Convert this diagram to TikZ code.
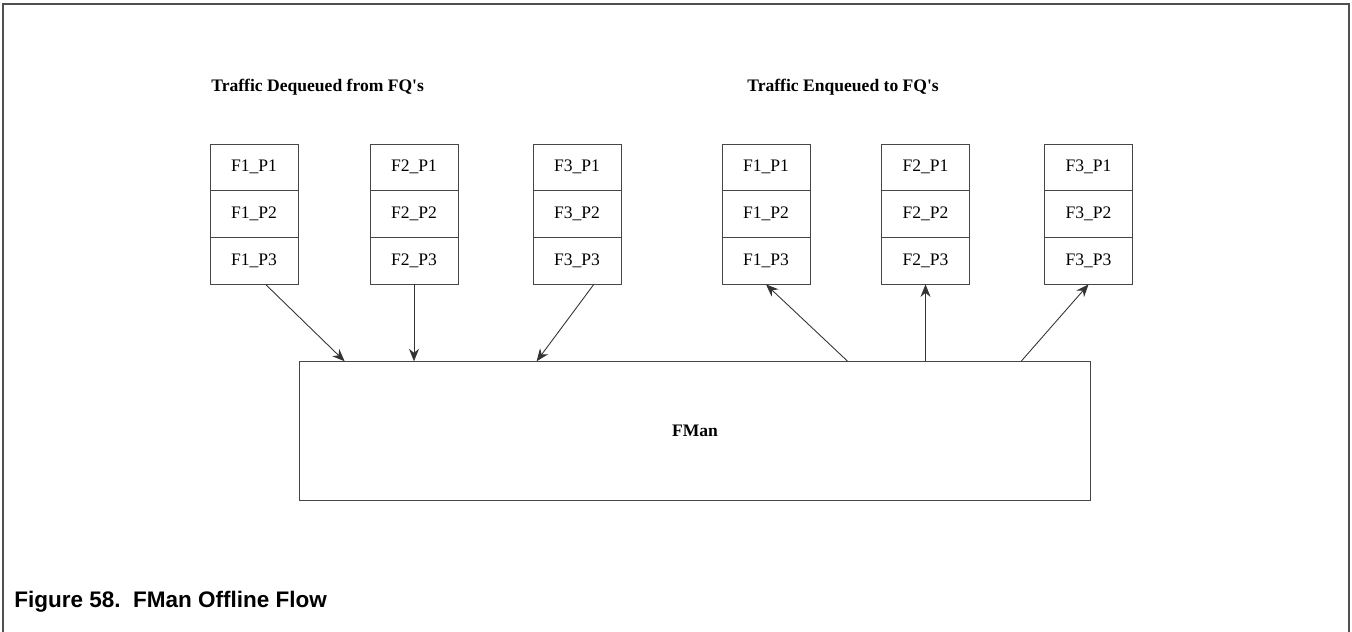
\documentclass[tikz,border=0pt]{standalone}
\usepackage{fontspec}
\setmainfont{Liberation Serif}
\newfontfamily\captionfont{Liberation Sans}
\usetikzlibrary{arrows.meta,calc}
\definecolor{framegray}{RGB}{80,80,80}
\definecolor{linegray}{RGB}{70,70,70}
\tikzset{
  fqcell/.style={draw=linegray, line width=0.5pt, minimum width=1.76cm,
    minimum height=0.933cm, inner sep=0pt, font=\fontsize{10}{12}\selectfont},
  flow/.style={draw=black!80, line width=0.5pt, -{Stealth[length=2.5mm,width=2mm]}},
  heading/.style={font=\fontsize{10}{12}\selectfont\bfseries, anchor=west, inner sep=0pt},
}

\begin{document}
\begin{tikzpicture}[x=0.02cm, y=-0.02cm]
  \useasboundingbox (0,0) rectangle (1352,632);
  % page frame, open at the bottom
  \draw[framegray, line width=1.1pt] (3,632) -- (3,4) -- (1349,4) -- (1349,632);

  \node[heading] (deqtitle) at (211,87) {Traffic Dequeued from FQ\textquotesingle s};
  \node[heading] (enqtitle) at (747,87) {Traffic Enqueued to FQ\textquotesingle s};

  % frame queues, three packets each
  \foreach \grp/\fx/\f in {deq/254/1, deq/414/2, deq/577/3,
                           enq/766/1, enq/925.5/2, enq/1088.5/3}
  {
    \foreach \p in {1,2,3}
    {
      \pgfmathsetmacro{\py}{167.3+(\p-1)*46.67}   % row centre
      \node[fqcell] (\grp\f-\p) at (\fx,\py) {F\f\_P\p};
    }
  }

  \node[draw=linegray, line width=0.5pt, minimum width=15.84cm, minimum height=2.78cm,
    font=\fontsize{10}{12}\selectfont\bfseries] (fman) at (695,431.2) {FMan};

  % dequeue into FMan
  \draw[flow] ($(deq1-3.south)+(11.6,0)$) -- ($(fman.north west)+(46,0)$);
  \draw[flow] (deq2-3.south) -- (deq2-3.south |- fman.north);
  \draw[flow] ($(deq3-3.south)+(16.8,0)$) -- ($(fman.north west)+(238,0)$);
  % enqueue out of FMan
  \draw[flow] ($(fman.north west)+(549,0)$) -- (enq1-3.south);
  \draw[flow] (enq2-3.south |- fman.north) -- (enq2-3.south);
  \draw[flow] ($(fman.north west)+(722.5,0)$) -- (enq3-3.south);

  \node[anchor=west, inner sep=0pt, font=\captionfont\bfseries\fontsize{12.8}{15}\selectfont]
    (caption) at (14,602) {Figure 58.\ \ FMan Offline Flow};
\end{tikzpicture}
\end{document}
